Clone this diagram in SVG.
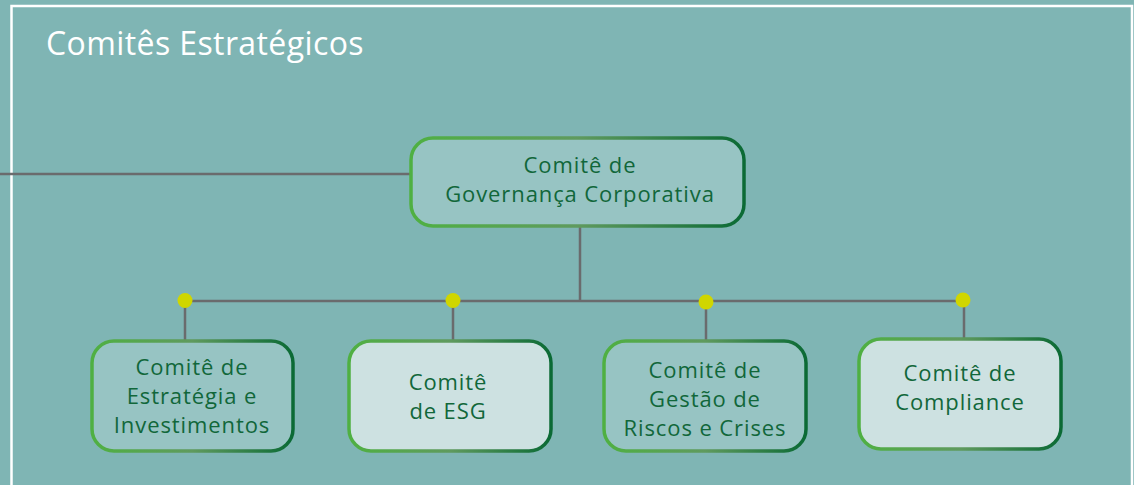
<svg xmlns="http://www.w3.org/2000/svg" width="1134" height="485" viewBox="0 0 1134 485">
<defs>
<linearGradient id="g" x1="0" y1="0" x2="1" y2="0">
<stop offset="0" stop-color="#4fb042"/>
<stop offset="0.5" stop-color="#5f9a5e"/>
<stop offset="1" stop-color="#0b6a35"/>
</linearGradient>
<style>
.box{stroke:url(#g);stroke-width:3.5}
.dk{fill:#97c4c3}
.lt{fill:#cde1e1}
.t{font-family:"Open Sans","Liberation Sans",sans-serif;font-size:22px;font-weight:500;letter-spacing:0.9px;fill:#11673a;text-anchor:middle}
.ln{stroke:#6a6b6d;stroke-width:2.5;fill:none}
.dot{fill:#d0d600}
</style>
</defs>
<rect width="1134" height="485" fill="#7fb5b4"/>
<rect x="11.5" y="6" width="1120.5" height="500" fill="none" stroke="#ffffff" stroke-width="2.5"/>
<text x="46" y="55" font-family="Open Sans, Liberation Sans, sans-serif" font-size="32" font-weight="400" letter-spacing="0.4" fill="#ffffff">Comitês Estratégicos</text>
<g id="connectors">
<path class="ln" d="M0 174H410M580 227V301M185 301H964M185 301V340M453 301V340M706 301V340M964 301V338"/>
<circle class="dot" cx="185" cy="300.5" r="7.5"/>
<circle class="dot" cx="453" cy="300.5" r="7.5"/>
<circle class="dot" cx="706" cy="302" r="7.5"/>
<circle class="dot" cx="963" cy="300" r="7.5"/>
</g>
<g id="node-governanca">
<rect class="box dk" x="411" y="138" width="333" height="88" rx="22"/>
<text class="t" x="580" y="173">Comitê de</text>
<text class="t" x="580" y="202">Governança Corporativa</text>
</g>
<g id="node-estrategia">
<rect class="box dk" x="92" y="341" width="201" height="110" rx="22"/>
<text class="t" x="192" y="375">Comitê de</text>
<text class="t" x="192" y="404">Estratégia e</text>
<text class="t" x="192" y="433">Investimentos</text>
</g>
<g id="node-esg">
<rect class="box lt" x="349" y="341" width="202" height="110" rx="22"/>
<text class="t" x="448" y="390">Comitê</text>
<text class="t" x="448" y="419">de ESG</text>
</g>
<g id="node-riscos">
<rect class="box dk" x="604" y="341" width="202" height="110" rx="22"/>
<text class="t" x="705" y="378">Comitê de</text>
<text class="t" x="705" y="407">Gestão de</text>
<text class="t" x="705" y="436">Riscos e Crises</text>
</g>
<g id="node-compliance">
<rect class="box lt" x="859" y="339" width="202" height="110" rx="22"/>
<text class="t" x="960" y="381">Comitê de</text>
<text class="t" x="960" y="410">Compliance</text>
</g>
</svg>
